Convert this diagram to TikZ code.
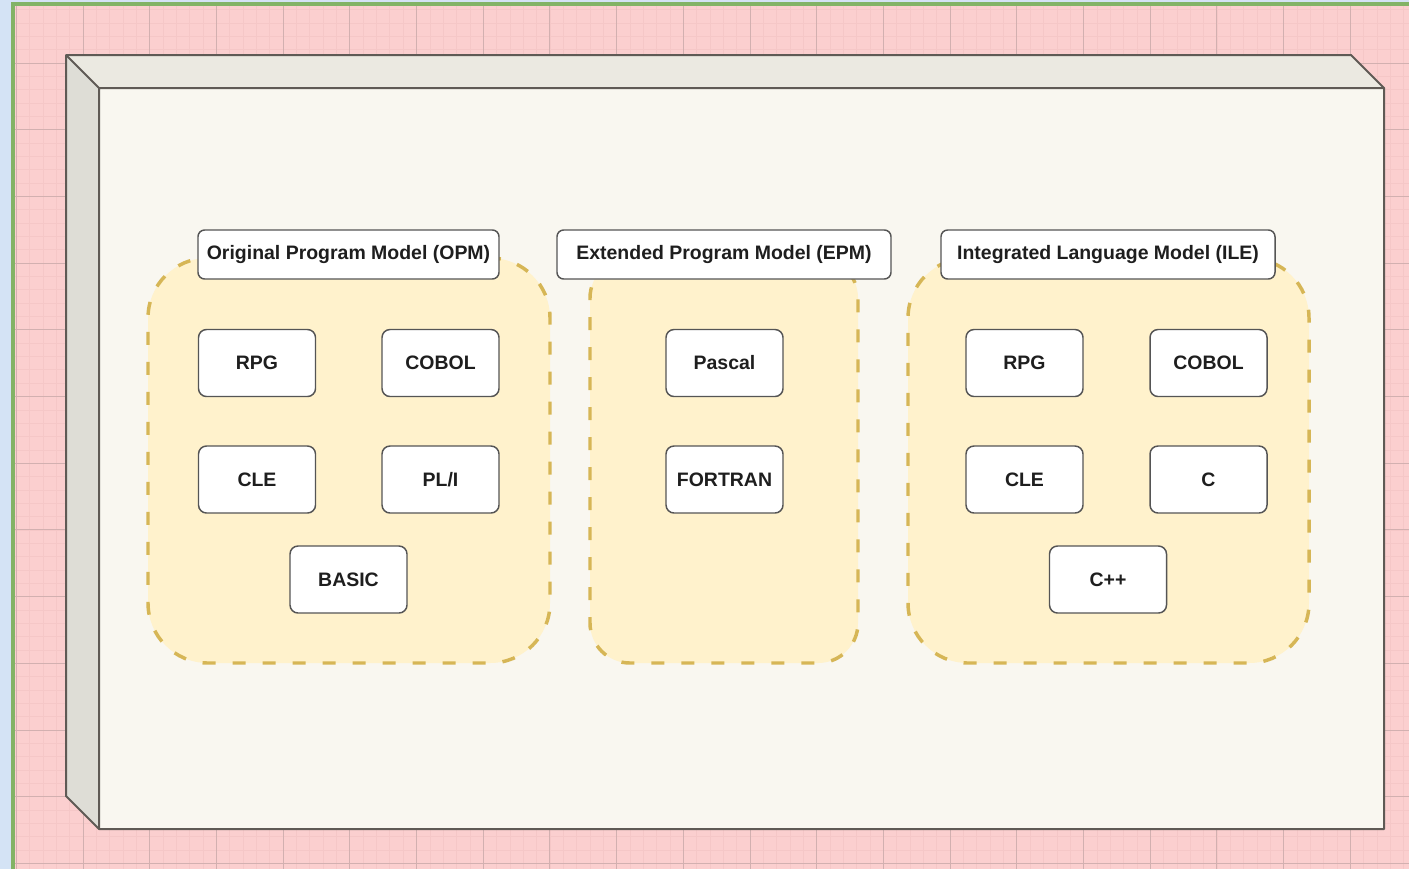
\documentclass[tikz,border=0pt]{standalone}
\usepackage{fontspec}
\setmainfont{Liberation Sans}
\definecolor{paneblue}{RGB}{212,227,245}
\definecolor{panegreen}{RGB}{130,179,102}
\definecolor{canvaspink}{RGB}{251,207,207}
\definecolor{minorpink}{RGB}{245,199,199}
\definecolor{majorpink}{RGB}{210,176,176}
\definecolor{cubefront}{RGB}{249,247,240}
\definecolor{cubetop}{RGB}{235,233,225}
\definecolor{cubeside}{RGB}{222,221,214}
\definecolor{cubeline}{RGB}{95,90,85}
\definecolor{groupfill}{RGB}{255,242,204}
\definecolor{groupline}{RGB}{214,182,86}
\definecolor{boxline}{RGB}{85,85,85}
\definecolor{textdark}{RGB}{30,30,30}

\begin{document}
\begin{tikzpicture}[x=0.75pt, y=-0.75pt, font=\bfseries\fontsize{14.6}{17}\selectfont,
    item/.style={draw=boxline, fill=white, rounded corners=6pt, line width=1.1pt,
      minimum width=87.75pt, minimum height=50.25pt, text=textdark, inner sep=0pt},
    model/.style={draw=boxline, fill=white, rounded corners=5pt, line width=1.1pt,
      minimum height=36.75pt, text=textdark, inner sep=0pt},
    group/.style={draw=groupline, fill=groupfill, line width=2.6pt,
      dash pattern=on 9.75pt off 12.75pt, minimum height=303.75pt, inner sep=0pt}]
        \useasboundingbox (0,0) rectangle (1409,869);
        \fill[paneblue] (0,0) rectangle (1409,869);
        \fill[canvaspink] (14,5) rectangle (1409,869);
        \begin{scope}
          \clip (14,5) rectangle (1409,869);
          \foreach \k in {0,...,106} {
            \draw[minorpink, line width=0.5pt] ({2.96+\k*13.34},5) -- ({2.96+\k*13.34},869);
          }
          \foreach \k in {0,...,66} {
            \draw[minorpink, line width=0.5pt] (14,{-3.7+\k*13.34}) -- (1409,{-3.7+\k*13.34});
          }
          \foreach \k in {0,...,21} {
            \draw[majorpink, line width=0.7pt] ({16.3+\k*66.7},5) -- ({16.3+\k*66.7},869);
          }
          \foreach \k in {0,...,13} {
            \draw[majorpink, line width=0.7pt] (14,{-3.7+\k*66.7}) -- (1409,{-3.7+\k*66.7});
          }
        \end{scope}
        \draw[panegreen, line width=2.6pt] (13,869) -- (13,4) -- (1409,4);

        \fill[cubetop] (66,55) -- (1351,55) -- (1384,88) -- (99,88) -- cycle;
        \fill[cubeside] (66,55) -- (99,88) -- (99,829) -- (66,796) -- cycle;
        \fill[cubefront] (99,88) rectangle (1384,829);
        \draw[cubeline, line width=1.5pt, line join=round]
          (66,55) -- (1351,55) -- (1384,88) -- (1384,829) -- (99,829) -- (66,796) -- cycle;
        \draw[cubeline, line width=1.5pt, line join=round] (66,55) -- (99,88) -- (1384,88) (99,88) -- (99,829);

        \node[group, rounded corners=45pt, minimum width=301.5pt] (opmgroup) at (349,460.5) {};
        \node[group, rounded corners=30pt, minimum width=201pt] (epmgroup) at (724,460.5) {};
        \node[group, rounded corners=45pt, minimum width=300.75pt] (ilegroup) at (1108.5,460.5) {};

        \node[model, minimum width=225.75pt] (opm) at (348.5,254.5) {Original Program Model (OPM)};
        \node[model, minimum width=250.5pt] (epm) at (724,254.5) {Extended Program Model (EPM)};
        \node[model, minimum width=250.5pt] (ile) at (1108,254.5) {Integrated Language Model (ILE)};

        \node[item] (opmrpg) at (257,363) {RPG};
        \node[item] (opmcobol) at (440.5,363) {COBOL};
        \node[item] (opmcle) at (257,479.5) {CLE};
        \node[item] (opmpli) at (440.5,479.5) {PL/I};
        \node[item] (opmbasic) at (348.5,579.5) {BASIC};

        \node[item] (epmpascal) at (724.5,363) {Pascal};
        \node[item] (epmfortran) at (724.5,479.5) {FORTRAN};

        \node[item] (ilerpg) at (1024.5,363) {RPG};
        \node[item] (ilecobol) at (1208.5,363) {COBOL};
        \node[item] (ilecle) at (1024.5,479.5) {CLE};
        \node[item] (ilec) at (1208.5,479.5) {C};
        \node[item] (ilecpp) at (1108,579.5) {C++};
      \end{tikzpicture}
\end{document}
